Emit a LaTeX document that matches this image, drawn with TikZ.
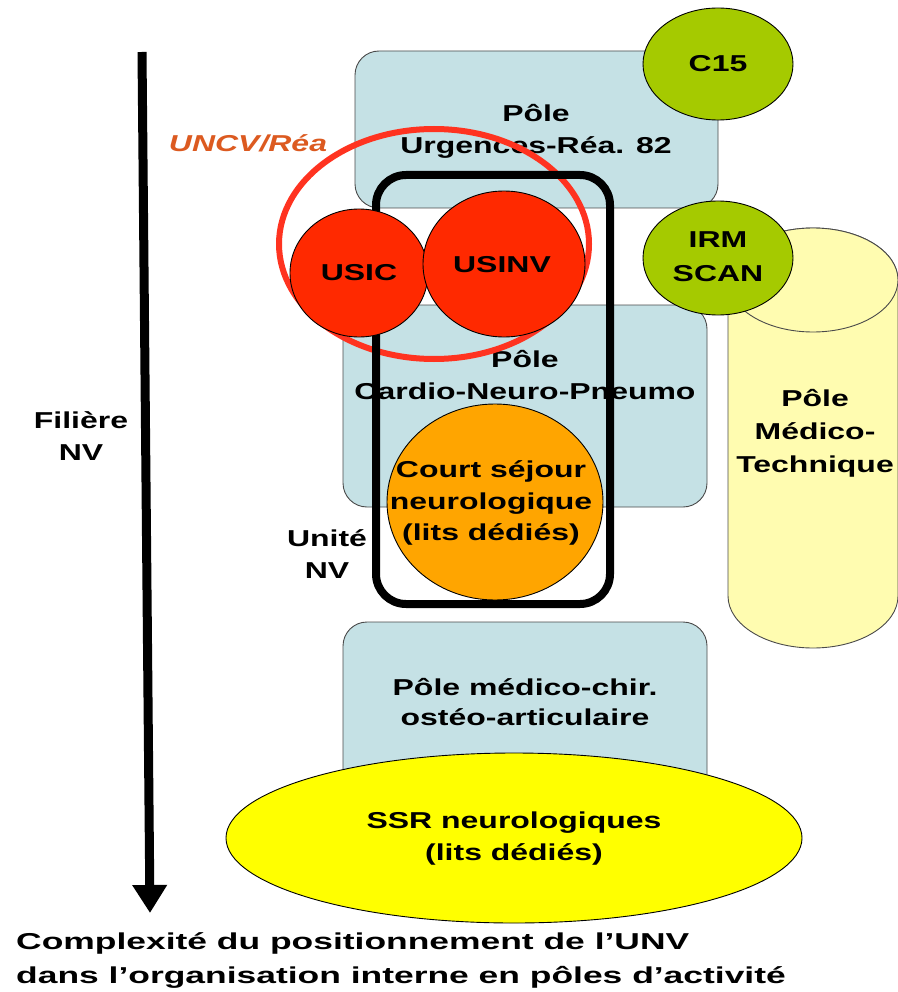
\documentclass[tikz,border=0pt]{standalone}
\usepackage{fontspec}
\setmainfont{Liberation Sans}[FakeStretch=1.39]
\newfontfamily\widefont{Liberation Sans}[FakeStretch=1.54]
\usetikzlibrary{arrows.meta,shapes.geometric}
\definecolor{boxblue}{HTML}{C5E1E5}
\definecolor{boxline}{HTML}{4A4A4A}
\definecolor{greenball}{HTML}{A5CA00}
\definecolor{redball}{HTML}{FF2900}
\definecolor{redring}{HTML}{FF3320}
\definecolor{orangeball}{HTML}{FFA500}
\definecolor{ssryellow}{HTML}{FFFF00}
\definecolor{cylyellow}{HTML}{FFFCB0}
\definecolor{uncvorange}{HTML}{DC5A20}
\begin{document}
\begin{tikzpicture}[x=1pt,y=-1pt,
  pole/.style={draw=boxline, line width=0.9pt, fill=boxblue, rounded corners=24pt},
  ball/.style={ellipse, draw=black, line width=0.9pt, inner sep=0pt},
  lbl/.style={font=\fontsize{23}{32}\selectfont\bfseries, align=center, inner sep=0pt, text=black}
]
\useasboundingbox (0,0) rectangle (897,992);
\fill[white] (0,0) rectangle (897,992);

% arrow
\coordinate (atop) at (142,52);
\coordinate (abot) at (150,913);
\draw[line width=9pt, -{Triangle[width=33pt,length=28pt]}] (atop) -- (abot);
\node[lbl] (filiere) at (81,436) {Filière\\NV};

% poles
\draw[pole] (355,51) rectangle (718,208);
\node[lbl] (urg) at (536,131) {Pôle\\Urgences-Réa. 82};
\draw[pole] (343,305) rectangle (707,507);
\node[lbl] (cnp) at (525,375) {Pôle\\Cardio-Neuro-Pneumo};
\draw[pole] (343,622) rectangle (707,800);
\node[lbl, font=\fontsize{23}{30}\selectfont\bfseries] (osteo) at (525,702) {Pôle médico-chir.\\ostéo-articulaire};

% cylinder
\coordinate (cylL) at (728,280);
\fill[cylyellow, draw=boxline, line width=0.9pt] (cylL) -- (728,596)
  arc[start angle=180, end angle=0, x radius=85, y radius=52]
  -- (898,280) arc[start angle=360, end angle=180, x radius=85, y radius=52] -- cycle;
\draw[boxline, line width=0.9pt, fill=cylyellow] (813,280) ellipse[x radius=85, y radius=52];
\node[lbl, font=\fontsize{23}{33}\selectfont\bfseries] (medtech) at (815,433) {Pôle\\Médico-\\Technique};

% UNCV ring
\node[ellipse, draw=redring, line width=6pt, minimum width=310pt, minimum height=230pt, inner sep=0pt] (ring) at (434,244) {};
\node[lbl, text=uncvorange, font=\fontsize{23}{28}\selectfont\bfseries\itshape] (uncv) at (248,143) {UNCV/Réa};

% Unite NV
\draw[line width=8pt, rounded corners=30pt] (376,175) rectangle (610,604);
\node[lbl] (unv) at (327,554) {Unité\\NV};

% units
\node[ball, fill=redball, minimum width=138pt, minimum height=128pt] (usic) at (359,273) {};
\node[lbl] at (usic) {USIC};
\node[ball, fill=redball, minimum width=162pt, minimum height=146pt] (usinv) at (504,264) {};
\node[lbl] at (502,265) {USINV};
\node[ball, fill=orangeball, minimum width=216pt, minimum height=196pt] (court) at (495,502) {};
\node[lbl, font=\fontsize{23}{31.5}\selectfont\bfseries] at (491,503) {Court séjour\\neurologique\\(lits dédiés)};

% green
\node[ball, fill=greenball, minimum width=150pt, minimum height=112pt] (c15) at (718,64) {};
\node[lbl] at (c15) {C15};
\node[ball, fill=greenball, minimum width=150pt, minimum height=114pt] (irm) at (718,258) {};
\node[lbl, font=\fontsize{23}{34}\selectfont\bfseries] at (718,257) {IRM\\SCAN};

% SSR
\node[ball, fill=ssryellow, minimum width=576pt, minimum height=170pt] (ssr) at (514,838) {};
\node[lbl] at (514,839) {SSR neurologiques\\(lits dédiés)};

% bottom caption
\node[lbl, align=left, anchor=west, font=\fontsize{23}{34}\selectfont\bfseries\widefont] (caption) at (16,960) {Complexité du positionnement de l’UNV\\dans l’organisation interne en pôles d’activité};
\end{tikzpicture}
\end{document}
